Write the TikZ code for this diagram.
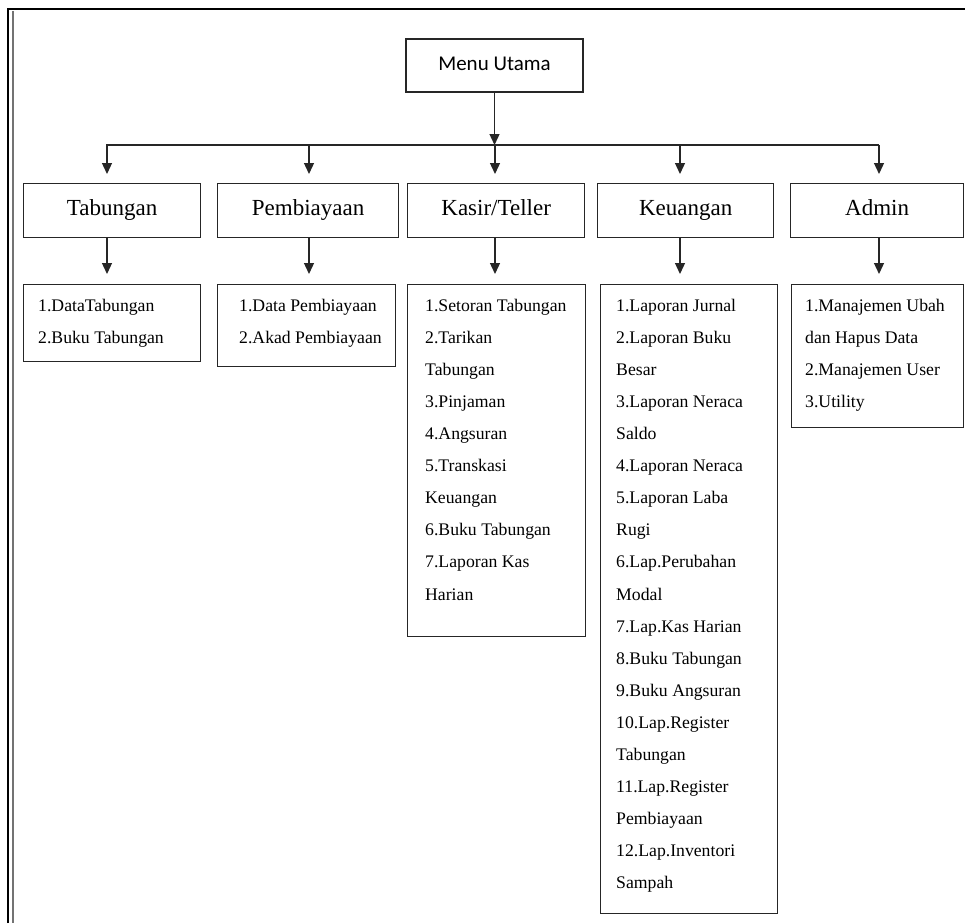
\documentclass[tikz,border=0pt]{standalone}
\usepackage{fontspec}
\setmainfont{Liberation Serif}
\newfontfamily\calib{Carlito}
\usetikzlibrary{arrows.meta}
\begin{document}
\begin{tikzpicture}[x=1pt,y=-1pt,
  box/.style={draw=black!85, line width=1.3pt, rectangle, inner sep=0pt, anchor=north west},
  head/.style={box, minimum height=54pt, text height=15pt, text depth=5pt, font=\fontsize{23}{27}\selectfont},
  list/.style={align=left, anchor=north west, inner sep=0pt, font=\fontsize{17.7}{32.1}\selectfont},
  arr/.style={line width=1.3pt, draw=black!85, -{Triangle[length=11pt,width=10pt]}},
  ln/.style={line width=1.3pt, draw=black!85}]
\useasboundingbox (0,0) rectangle (965,923);
\fill[white] (0,0) rectangle (965,923);
% frame
\draw[line width=2.2pt] (8,923) -- (8,9) -- (965,9);
\draw[black!55, line width=1.5pt] (13,11) -- (13,923);
% top
\node[box, anchor=center, minimum width=177pt, minimum height=53pt, text height=14pt, text depth=4pt, font=\calib\fontsize{21}{25}\selectfont] (menu) at (494.5,65.5) {Menu Utama};
\coordinate (hl) at (106,145);
\coordinate (hr) at (879,145);
\draw[ln] (hl) -- (hr);
\draw[arr] (menu.south) -- (menu.south |- hl);
% level 1
\node[head, minimum width=177pt] (tab) at (23,183) {Tabungan};
\node[head, minimum width=181pt] (pem) at (217,183) {Pembiayaan};
\node[head, minimum width=177pt] (kas) at (407,183) {Kasir/Teller};
\node[head, minimum width=176pt] (keu) at (597,183) {Keuangan};
\node[head, minimum width=173pt] (adm) at (790,183) {Admin};
\coordinate (a1) at (107,145);
\coordinate (a2) at (309,145);
\coordinate (a3) at (495,145);
\coordinate (a4) at (680,145);
\coordinate (a5) at (879,145);
\foreach \c/\b in {a1/tab,a2/pem,a3/kas,a4/keu,a5/adm}
  \draw[arr, shorten >=9pt] (\c) -- (\c |- \b.north);
% level 2 boxes
\node[box, minimum width=177pt, minimum height=77pt] (tabl) at (23,284) {};
\node[box, minimum width=178pt, minimum height=82pt] (peml) at (217,284) {};
\node[box, minimum width=178pt, minimum height=352pt] (kasl) at (407,284) {};
\node[box, minimum width=177pt, minimum height=629pt] (keul) at (600,284) {};
\node[box, minimum width=172pt, minimum height=143pt] (adml) at (791,284) {};
\foreach \c/\b/\l in {a1/tab/tabl,a2/pem/peml,a3/kas/kasl,a4/keu/keul,a5/adm/adml}
  \draw[arr, shorten >=10pt] (\c |- \b.south) -- (\c |- \l.north);
% list texts
\node[list] (tabt) at (38,298.7) {1.DataTabungan\\2.Buku Tabungan};
\node[list] (pemt) at (239,298.7) {1.Data Pembiayaan\\2.Akad Pembiayaan};
\node[list] (kast) at (425,298.7) {1.Setoran Tabungan\\2.Tarikan\\Tabungan\\3.Pinjaman\\4.Angsuran\\5.Transkasi\\Keuangan\\6.Buku Tabungan\\7.Laporan Kas\\Harian};
\node[list] (keut) at (616,298.7) {1.Laporan Jurnal\\2.Laporan Buku\\Besar\\3.Laporan Neraca\\Saldo\\4.Laporan Neraca\\5.Laporan Laba\\Rugi\\6.Lap.Perubahan\\Modal\\7.Lap.Kas Harian\\8.Buku Tabungan\\9.Buku Angsuran\\10.Lap.Register\\Tabungan\\11.Lap.Register\\Pembiayaan\\12.Lap.Inventori\\Sampah};
\node[list] (admt) at (805,298.7) {1.Manajemen Ubah\\dan Hapus Data\\2.Manajemen User\\3.Utility};
\end{tikzpicture}
\end{document}
